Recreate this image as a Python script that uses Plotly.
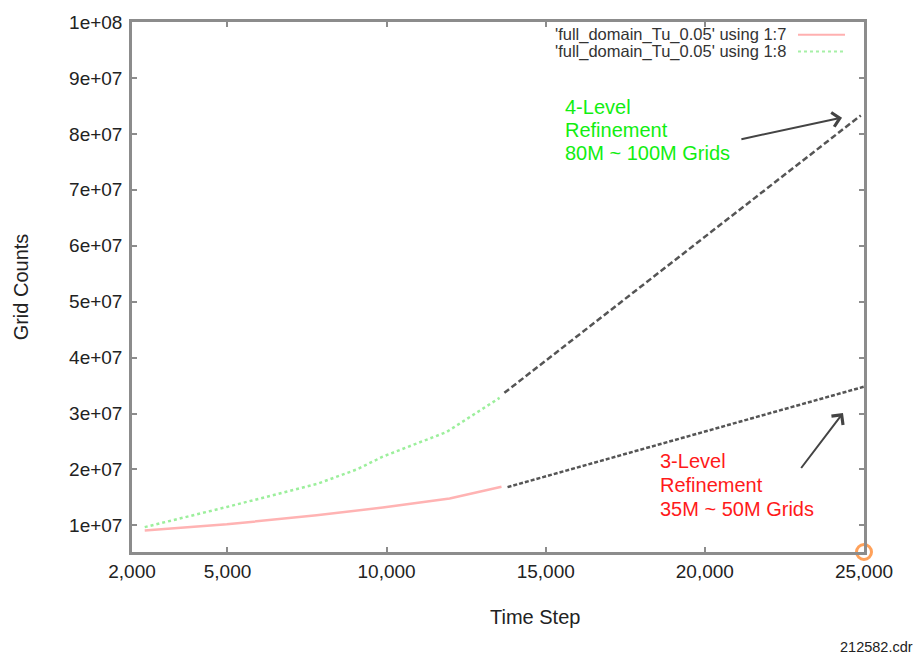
import plotly.graph_objects as go

# ---- data ----
step_3lvl = [2400, 4980, 7800, 9880, 11980, 13610]
cells_3lvl = [9.1e6, 1.02e7, 1.18e7, 1.32e7, 1.48e7, 1.69e7]

step_4lvl = [2400, 4980, 7800, 9060, 9880, 11880, 13550]
cells_4lvl = [9.7e6, 1.33e7, 1.74e7, 2.0e7, 2.23e7, 2.67e7, 3.28e7]

proj4_step = [13700, 24900]
proj4_cells = [3.37e7, 8.33e7]
proj3_step = [13800, 25000]
proj3_cells = [1.685e7, 3.48e7]

x_ticks = [2000, 5000, 10000, 15000, 20000, 25000]
x_ticktext = ["2,000", "5,000", "10,000", "15,000", "20,000", "25,000"]
y_ticks = [1e7, 2e7, 3e7, 4e7, 5e7, 6e7, 7e7, 8e7, 9e7, 1e8]
y_ticktext = ["1e+07", "2e+07", "3e+07", "4e+07", "5e+07", "6e+07", "7e+07", "8e+07", "9e+07", "1e+08"]

legend_labels = ["'full_domain_Tu_0.05' using 1:7", "'full_domain_Tu_0.05' using 1:8"]
green_note = ["4-Level", "Refinement", "80M ~ 100M Grids"]
red_note = ["3-Level", "Refinement", "35M ~ 50M Grids"]

FONT = "Liberation Sans, Arial, sans-serif"
AX = "#8c8c8c"

fig = go.Figure()
fig.add_trace(go.Scatter(x=step_3lvl, y=cells_3lvl, mode="lines",
                         line=dict(color="#ffb3b3", width=2.5), showlegend=False))
fig.add_trace(go.Scatter(x=step_4lvl, y=cells_4lvl, mode="lines",
                         line=dict(color="#9cef9c", width=2.5, dash="3px,3px"), showlegend=False))
fig.add_trace(go.Scatter(x=proj4_step, y=proj4_cells, mode="lines",
                         line=dict(color="#555555", width=2.5, dash="6px,3px"), showlegend=False))
fig.add_trace(go.Scatter(x=proj3_step, y=proj3_cells, mode="lines",
                         line=dict(color="#555555", width=2.5, dash="4px,2px"), showlegend=False))
# highlight circle at the last time step
fig.add_trace(go.Scatter(x=[25000], y=[5.25e6], mode="markers", cliponaxis=False,
                         marker=dict(symbol="circle-open", size=15,
                                     line=dict(color="#f0301a", width=3)),
                         showlegend=False))

ann = []
# legend (gnuplot style: text right, sample at right)
for i, (lab, col, dash) in enumerate(zip(legend_labels, ["#ffb0b0", "#a6f0a6"], ["solid", "dot"])):
    ypix = 27 + 17 * i
    ann.append(dict(xref="paper", yref="paper", x=(788 - 132) / 732, y=(552 - ypix) / 538,
                    text=lab, showarrow=False, xanchor="right", yanchor="middle",
                    font=dict(family=FONT, size=16.5, color="#333333")))
    fig.add_shape(type="line", xref="paper", yref="paper",
                  x0=(798 - 132) / 732, x1=(845 - 132) / 732,
                  y0=(552 - ypix) / 538, y1=(552 - ypix) / 538,
                  line=dict(color=col, width=2, dash=dash))

for i, t in enumerate(green_note):
    ann.append(dict(x=15540, y=8.48e7 - i * 0.415e7, text=t, showarrow=False,
                    xanchor="left", yanchor="middle",
                    font=dict(family=FONT, size=20, color="#11ee11")))
for i, t in enumerate(red_note):
    ann.append(dict(x=18530, y=2.15e7 - i * 0.425e7, text=t, showarrow=False,
                    xanchor="left", yanchor="middle",
                    font=dict(family=FONT, size=20, color="#ff1a1a")))

# arrows
ann.append(dict(x=24310, y=8.29e7, ax=21100, ay=7.9e7, axref="x", ayref="y",
                text="", showarrow=True, arrowhead=4, arrowsize=1.4,
                arrowwidth=2, arrowcolor="#444444"))
ann.append(dict(x=24340, y=3.01e7, ax=22990, ay=2.0e7, axref="x", ayref="y",
                text="", showarrow=True, arrowhead=4, arrowsize=1.4,
                arrowwidth=2, arrowcolor="#444444"))

# x-axis title (offset right, as in the reference)
ann.append(dict(xref="paper", yref="paper", x=(535 - 132) / 732, y=(552 - 618) / 538,
                text="Time Step", showarrow=False, xanchor="center", yanchor="middle",
                font=dict(family=FONT, size=20, color="#222222")))

ann.append(dict(xref="paper", yref="paper", x=(915 - 132) / 732, y=(552 - 648) / 538,
                text="212582.cdr", showarrow=False, xanchor="right", yanchor="middle",
                font=dict(family=FONT, size=14.5, color="#222222")))

fig.update_layout(
    width=924, height=658,
    margin=dict(l=132, r=60, t=14, b=106),
    paper_bgcolor="white", plot_bgcolor="white",
    font=dict(family=FONT, color="#222222"),
    annotations=ann,
    xaxis=dict(range=[2000, 25000], tickvals=x_ticks, ticktext=x_ticktext,
               ticks="inside", ticklen=5, tickwidth=2, tickcolor=AX,
               showline=True, linecolor=AX, linewidth=2.5, mirror="ticks",
               showgrid=False, zeroline=False,
               tickfont=dict(family=FONT, size=19, color="#222222"),
               ticklabelstandoff=0),
    yaxis=dict(range=[5.25e6, 1e8], tickvals=y_ticks, ticktext=y_ticktext,
               ticks="inside", ticklen=5, tickwidth=2, tickcolor=AX,
               showline=True, linecolor=AX, linewidth=2.5, mirror="ticks",
               showgrid=False, zeroline=False,
               tickfont=dict(family=FONT, size=19, color="#222222"),
               ticklabelstandoff=3,
               title=dict(text="Grid Counts", standoff=36,
                          font=dict(family=FONT, size=20, color="#222222"))),
)

fig.write_html("out.html")
